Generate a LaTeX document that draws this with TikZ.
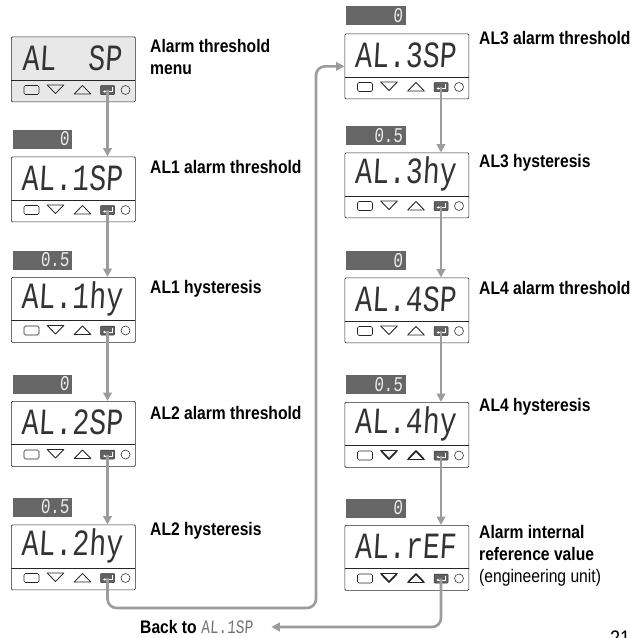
\documentclass[tikz,border=0pt]{standalone}
\usepackage{fontspec}
\setmainfont{Liberation Sans}[FakeStretch=0.86]
\newfontfamily\segfont{Liberation Mono}[FakeSlant=0.06,FakeStretch=0.76]
\usetikzlibrary{arrows.meta}
\definecolor{flowgray}{HTML}{9C9C9C}
\definecolor{bargray}{HTML}{666666}

\begin{document}
\begin{tikzpicture}[x=1pt, y=-1pt, every node/.style={font=\bfseries\fontsize{18.2}{22}\selectfont, inner sep=0pt},
	panel/.style={draw=black!85, line width=.7pt, rounded corners=1.2pt, minimum width=124pt, minimum height=65pt, anchor=north west},
	keyicon/.style={draw=black!85, line width=.55pt, line join=round},
	entkey/.style={draw=black!80, fill=black!62, line width=.5pt, rounded corners=.8pt, minimum width=14pt, minimum height=9pt},
	valbar/.style={fill=bargray, minimum width=59.5pt, minimum height=19pt, anchor=north west},
	segtext/.style={font=\segfont\fontsize{37}{37}\selectfont, text=black!80},
	valtext/.style={font=\segfont\fontsize{21}{21}\selectfont, text=black!8, anchor=east},
	flow/.style={draw=flowgray, line width=2.6pt, -{Triangle[length=8.5pt,width=8.5pt]}, rounded corners=9pt},
	lab/.style={anchor=west, align=left}]
	\useasboundingbox (0,0) rectangle (631,638);
	% the ten controller fronts
	\foreach \nm/\x/\y/\val/\bg/\tw in {alsp/11/36.5/{AL\hspace{32pt}SP}/black!9/.55, al1sp/11/156.5/AL.1SP/white/.55, al1hy/11/277/AL.1hy/white/.55, al2sp/11/401/AL.2SP/white/.55, al2hy/11/524.5/AL.2hy/white/.55, al3sp/344.5/33.5/AL.3SP/white/.55, al3hy/344.5/152.5/AL.3hy/white/.55, al4sp/344.5/277.5/AL.4SP/white/.55, al4hy/344.5/402/AL.4hy/white/1.7, alref/344.5/525/AL.rEF/white/1.7} {
		\begin{scope}[shift={(\x,\y)}]
			\node[panel, fill=\bg] (\nm) at (0,0) {};
			\node[segtext] (\nm-txt) at (61,21.5) {\val};
			\draw[keyicon, line width=.7pt] (0,43.5) -- (124,43.5);
			\draw[keyicon, rounded corners=1.5pt] (13,49) rectangle (28,58);
			\draw[keyicon] (36,48.5) -- (53,48.5) -- (44.5,57) -- cycle;
			\draw[keyicon, line width=\tw pt] (36.8,49) -- (44.5,57) -- (52.2,49);
			\draw[keyicon] (63,57.5) -- (80,57.5) -- (71.5,49) -- cycle;
			\draw[keyicon, line width=\tw pt] (63.8,57) -- (71.5,49) -- (79.2,57);
			\node[entkey] (\nm-ent) at (96.5,53.5) {};
			\draw[white, line width=.7pt, -{Latex[length=2.2pt,width=3pt]}] (101,50.5) -- (101,55) -- (92,55);
			\node[draw=black!85, line width=.55pt, circle, minimum size=9pt] (\nm-led) at (114.5,53.5) {};
		\end{scope}
	}
	% setpoint bars over the fronts
	\foreach \nm/\x/\y/\val in {al1sp/12.5/129.5/0, al1hy/12.5/250.5/0.5, al2sp/12.5/374.5/0, al2hy/12.5/497.5/0.5, al3sp/346/6/0, al3hy/346/126/0.5, al4sp/346/251/0, al4hy/346/375/0.5, alref/346/498.5/0} {
		\node[valbar] (\nm-bar) at (\x,\y) {};
		\node[valtext] (\nm-val) at (\x+57,\y+9.5) {\val};
	}
	% captions
	\node[lab] (t1) at (150,57) {Alarm threshold\\menu};
	\foreach \i/\x/\y/\lab in {2/150/167/AL1 alarm threshold, 3/150/289/AL1 hysteresis, 4/150/413/AL2 alarm threshold, 5/150/531/AL2 hysteresis, 6/479/38/AL3 alarm threshold, 7/479/163/AL3 hysteresis, 8/479/288/AL4 alarm threshold, 9/479/407/AL4 hysteresis} {
		\node[lab] (t\i) at (\x,\y) {\lab};
	}
	\node[lab] (t10) at (479,555.5) {Alarm internal\\reference value\\{\normalfont(engineering unit)}};
	\node[anchor=west] (back) at (140,627) {Back to {\segfont\mdseries\fontsize{19}{19}\selectfont\color{black!55}AL.1SP}};
	\node[anchor=north west, font=\fontsize{21}{21}\selectfont\mdseries] (pg) at (610,631) {21};
	% connectors
	\foreach \a/\b in {alsp/al1sp, al1sp/al1hy, al1hy/al2sp, al2sp/al2hy, al3sp/al3hy, al3hy/al4sp, al4sp/al4hy, al4hy/alref} {
		\draw[flow] (\a-ent.center) -- (\a-ent |- \b.north);
	}
	\coordinate (turn) at (316,608);
	\draw[flow] (al2hy-ent.center) |- (turn) |- (al3sp.west);
	\draw[flow, shorten >=18pt] (alref-ent.center) |- (back.east);
\end{tikzpicture}
\end{document}
